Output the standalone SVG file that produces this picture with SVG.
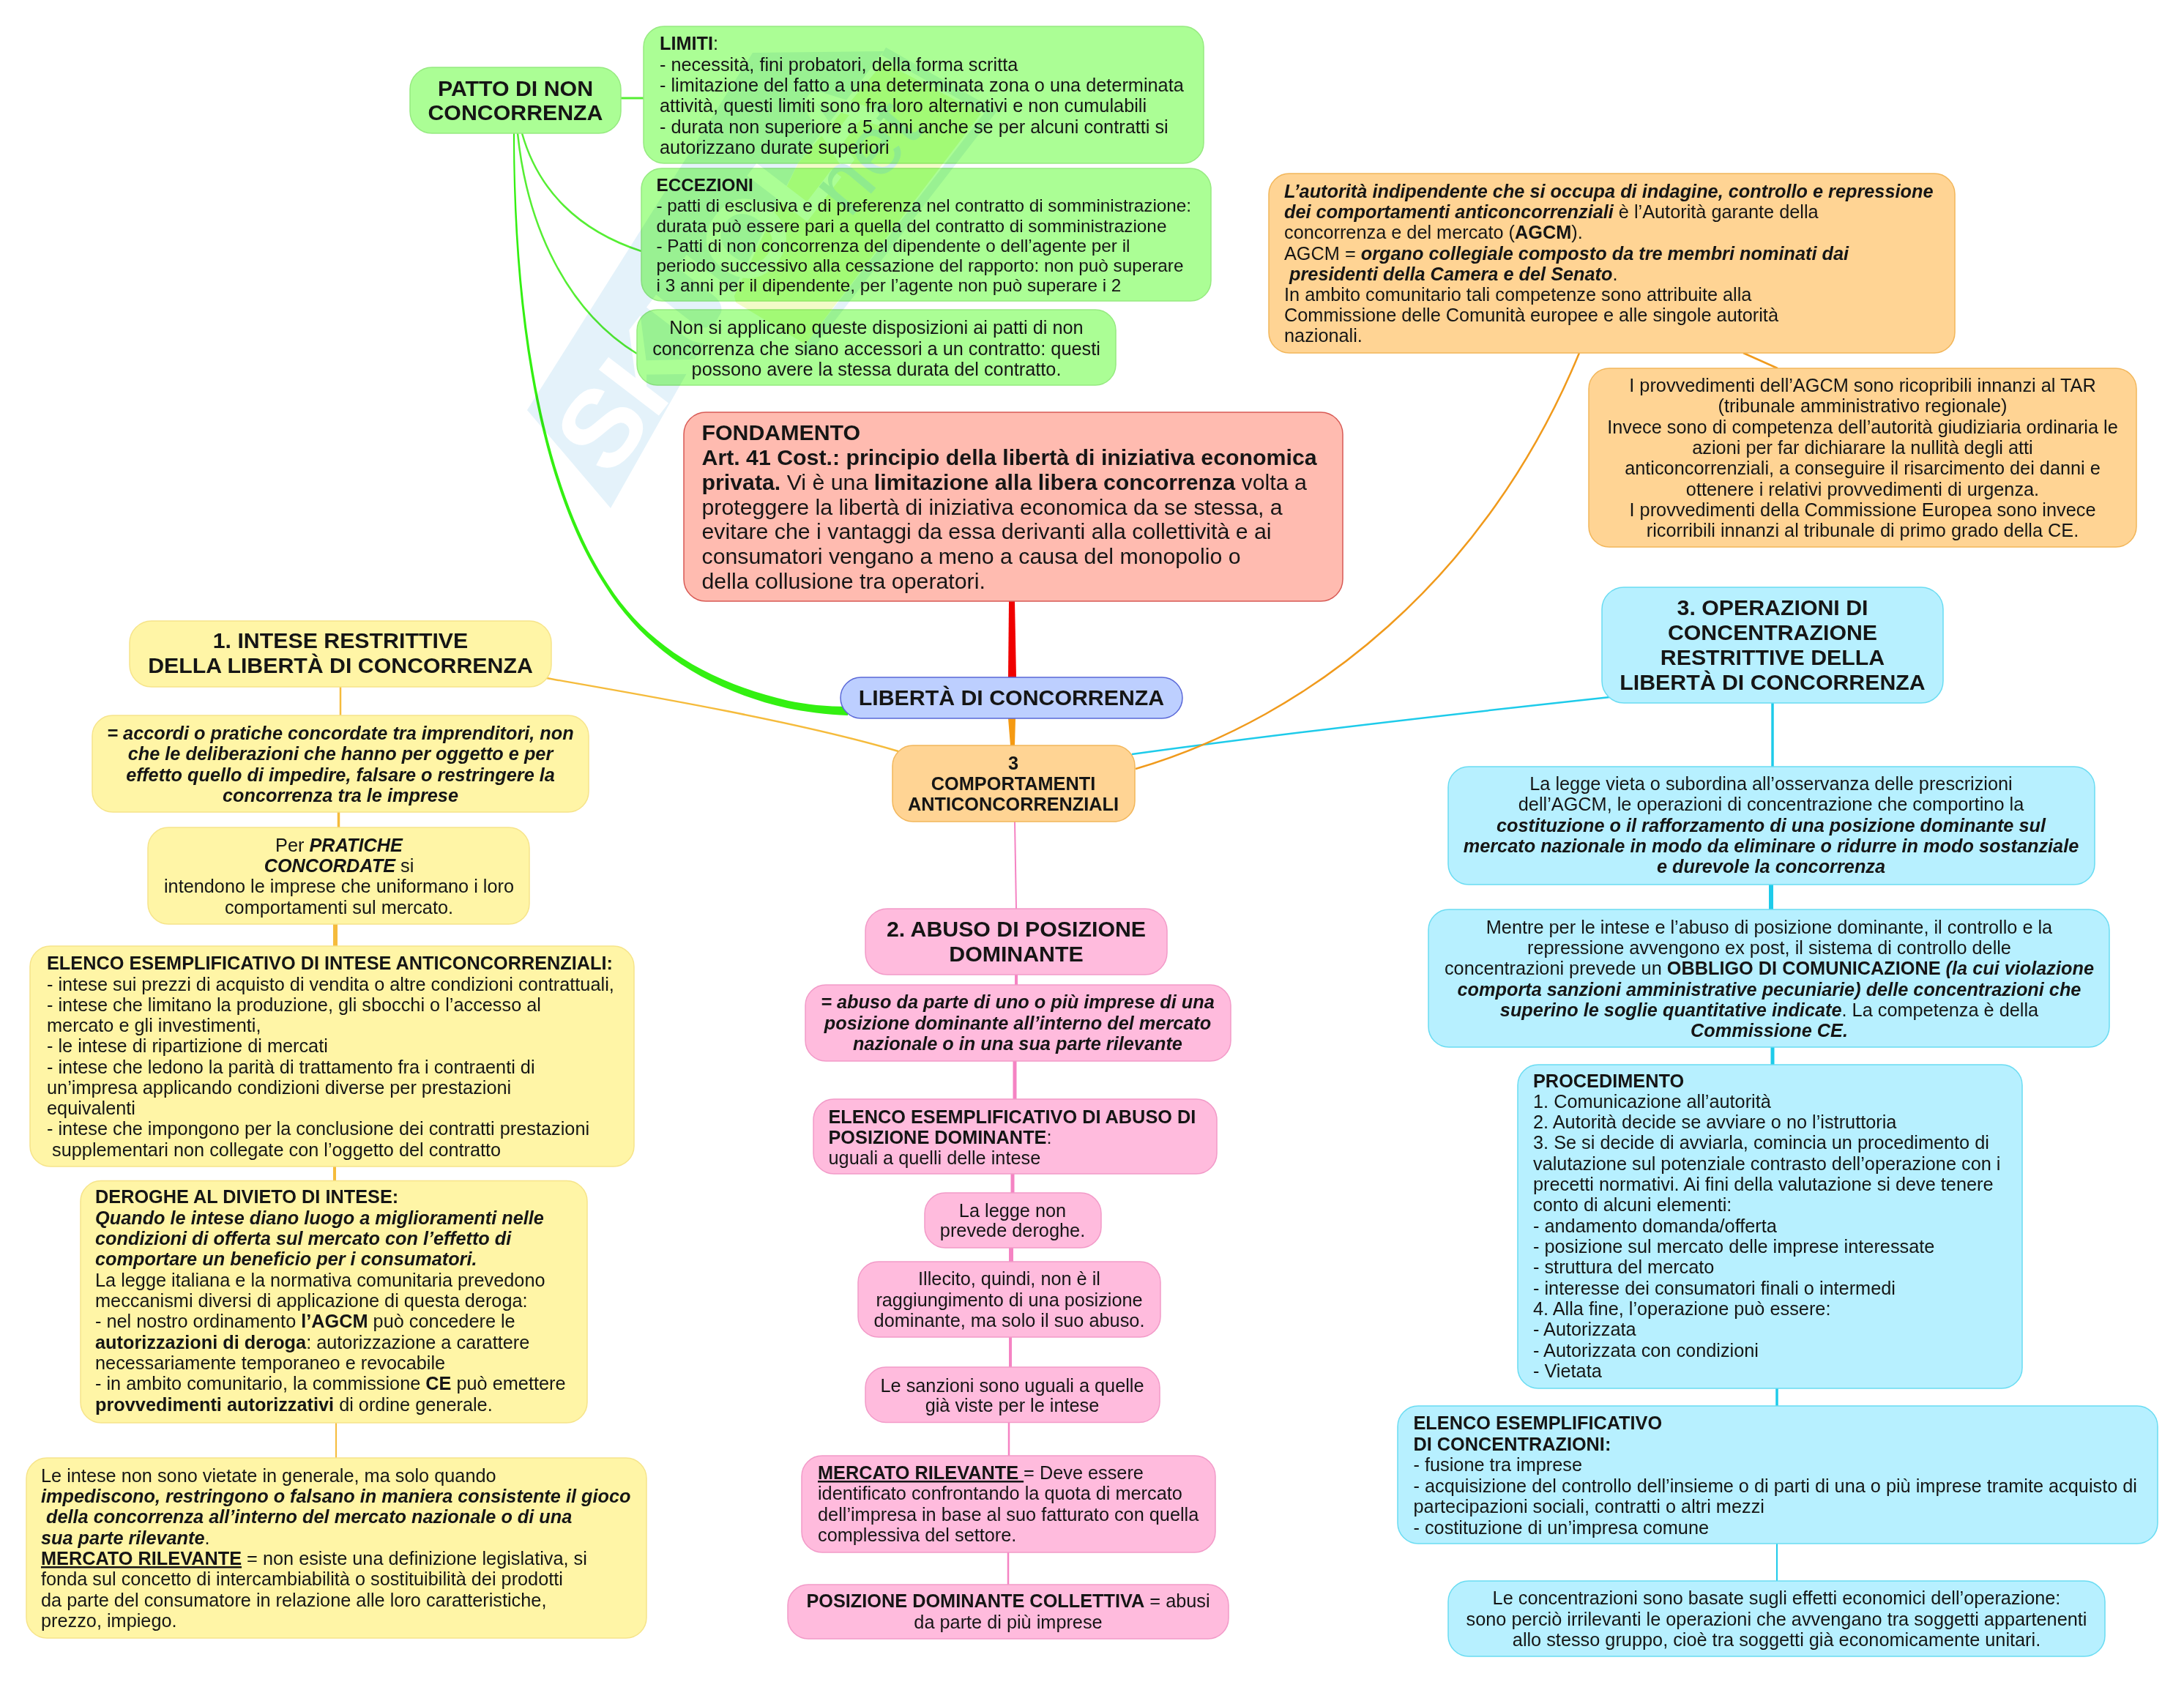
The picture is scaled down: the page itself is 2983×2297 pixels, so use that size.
<svg xmlns="http://www.w3.org/2000/svg" width="2983" height="2297" viewBox="0 0 2983 2297">
<style>
text{font-family:"Liberation Sans",Arial,sans-serif;font-size:25.3px;fill:#151515;white-space:pre}
.c{text-anchor:middle}
.s{font-size:24.3px}
.h{font-size:30.300px;font-weight:700}
.f{font-size:30.300px}
.b{font-weight:700}
.bi{font-weight:700;font-style:italic}
.u{text-decoration:underline}
rect{stroke-width:1.5}
.gr rect{fill:#abfe95;stroke:#96ea80}
.re rect{fill:#ffbbb0;stroke:#d85a55}
.or rect{fill:#ffd494;stroke:#f2b65a}
.bl rect{fill:#bdcfff;stroke:#5a68d8}
.cy rect{fill:#b7f0ff;stroke:#6adcf2}
.ye rect{fill:#fff5a6;stroke:#f6e48a}
.pi rect{fill:#ffbbdd;stroke:#f29ac8}
.l{fill:none}
.lg{stroke:#55ee33}.lo{stroke:#f5bb3c}.lp{stroke:#f583c3}.lc{stroke:#1ecbea}
</style>
<rect width="2983" height="2297" fill="#fff" stroke="none"/>
<g id="connectors">
<path class="l lg" stroke-width="3" d="M848,134H879"/>
<path class="l lg" stroke-width="2.5" d="M713,182C735,260 790,315 876,343"/>
<path class="l lg" stroke-width="2.5" d="M707,182C720,310 775,425 870,483"/>
<path fill="#33f011" d="M703,182C703.5,400 732,650 831,799C882,878 962,930 1077,957C1100,962 1130,965 1158,965L1158,977C1130,976 1098,972 1075,967C958,940 878,882 827,801C728,651 700.5,400 701,182Z"/>
<path fill="#f00000" d="M1378,821H1386L1388,925H1377Z"/>
<path fill="#f59a12" d="M1377,981H1387L1386,1018H1380Z"/>
<path class="l lo" stroke-width="2.5" d="M746,926C860,946 1090,985 1227,1026"/>
<path class="l" stroke="#1ecbea" stroke-width="2.5" d="M1546,1030Q1800,995 2199,952"/>
<path class="l" stroke="#f09a1c" stroke-width="2.5" d="M1551,1050C1790,980 2030,790 2157,482"/>
<path class="l" stroke="#f09a1c" stroke-width="2.5" d="M2381,482L2428,503"/>
<path class="l lp" stroke-width="2" d="M1386,1122L1388,1241"/>
<path class="l lp" stroke-width="4" d="M1388,1331V1345"/>
<path class="l lp" stroke-width="5" d="M1386,1449V1501"/>
<path class="l lp" stroke-width="5" d="M1383,1603V1629"/>
<path class="l lp" stroke-width="6" d="M1381,1704V1723"/>
<path class="l lp" stroke-width="4" d="M1380,1826V1867"/>
<path class="l lp" stroke-width="2.5" d="M1378,1942V1988"/>
<path class="l lp" stroke-width="2.5" d="M1377,2120V2164"/>
<path class="l lo" stroke-width="2.5" d="M465,938V977"/>
<path class="l lo" stroke-width="3.5" d="M462.500,1109V1130"/>
<path class="l lo" stroke-width="6" d="M458,1262V1292"/>
<path class="l lo" stroke-width="4" d="M457,1593V1613"/>
<path class="l lo" stroke-width="2" d="M459,1943V1991"/>
<path class="l lc" stroke-width="3.500" d="M2421,960V1047"/>
<path class="l lc" stroke-width="6" d="M2419,1208V1242"/>
<path class="l lc" stroke-width="5" d="M2421,1430V1454"/>
<path class="l lc" stroke-width="3.500" d="M2427,1896V1920"/>
<path class="l lc" stroke-width="2" d="M2427,2108V2159"/>
</g>
<g id="n-patto" class="gr"><rect x="560" y="92" width="288" height="90" rx="30"/>
<text class="h c" x="704" y="130.500">PATTO DI NON</text><text class="h c" x="704" y="164">CONCORRENZA</text></g>
<g id="n-limiti" class="gr"><rect x="879" y="36" width="765" height="187" rx="28"/>
<text x="901" y="68"><tspan class="b">LIMITI</tspan>:</text>
<text x="901" y="97">- necessità, fini probatori, della forma scritta</text>
<text x="901" y="125">- limitazione del fatto a una determinata zona o una determinata</text>
<text x="901" y="153">attività, questi limiti sono fra loro alternativi e non cumulabili</text>
<text x="901" y="182">- durata non superiore a 5 anni anche se per alcuni contratti si</text>
<text x="901" y="210">autorizzano durate superiori</text></g>
<g id="n-eccezioni" class="gr"><rect x="876" y="230" width="778" height="181" rx="28"/>
<text class="s" x="896.500" y="261"><tspan class="b">ECCEZIONI</tspan></text>
<text class="s" x="896.500" y="289">- patti di esclusiva e di preferenza nel contratto di somministrazione:</text>
<text class="s" x="896.500" y="317">durata può essere pari a quella del contratto di somministrazione</text>
<text class="s" x="896.500" y="343.500">- Patti di non concorrenza del dipendente o dell’agente per il</text>
<text class="s" x="896.500" y="371">periodo successivo alla cessazione del rapporto: non può superare</text>
<text class="s" x="896.500" y="398">i 3 anni per il dipendente, per l’agente non può superare i 2</text></g>
<g id="n-nonsi" class="gr"><rect x="870" y="423" width="654" height="103" rx="28"/>
<text class="c" x="1197" y="456">Non si applicano queste disposizioni ai patti di non</text>
<text class="c" x="1197" y="485">concorrenza che siano accessori a un contratto: questi</text>
<text class="c" x="1197" y="513">possono avere la stessa durata del contratto.</text></g>
<g id="n-fondamento" class="re"><rect x="934" y="563" width="900" height="258" rx="30"/>
<text class="f" x="958.500" y="601"><tspan class="b">FONDAMENTO</tspan></text>
<text class="f" x="958.500" y="634.500"><tspan class="b">Art. 41 Cost.: principio della libertà di iniziativa economica</tspan></text>
<text class="f" x="958.500" y="668.500"><tspan class="b">privata.</tspan> Vi è una <tspan class="b">limitazione alla libera concorrenza</tspan> volta a</text>
<text class="f" x="958.500" y="702.500">proteggere la libertà di iniziativa economica da se stessa, a</text>
<text class="f" x="958.500" y="736">evitare che i vantaggi da essa derivanti alla collettività e ai</text>
<text class="f" x="958.500" y="770">consumatori vengano a meno a causa del monopolio o</text>
<text class="f" x="958.500" y="804">della collusione tra operatori.</text></g>
<g id="n-agcm" class="or"><rect x="1733" y="237" width="937" height="245" rx="28"/>
<text x="1754" y="269.500"><tspan class="bi">L’autorità indipendente che si occupa di indagine, controllo e repressione</tspan></text>
<text x="1754" y="298"><tspan class="bi">dei comportamenti anticoncorrenziali</tspan> è l’Autorità garante della</text>
<text x="1754" y="326">concorrenza e del mercato (<tspan class="b">AGCM</tspan>).</text>
<text x="1754" y="354.500">AGCM = <tspan class="bi">organo collegiale composto da tre membri nominati dai</tspan></text>
<text x="1754" y="382.500"> <tspan class="bi">presidenti della Camera e del Senato</tspan>.</text>
<text x="1754" y="411">In ambito comunitario tali competenze sono attribuite alla</text>
<text x="1754" y="439">Commissione delle Comunità europee e alle singole autorità</text>
<text x="1754" y="467">nazionali.</text></g>
<g id="n-provvedimenti" class="or"><rect x="2170" y="503" width="748" height="244" rx="28"/>
<text class="c" x="2544" y="535">I provvedimenti dell’AGCM sono ricopribili innanzi al TAR</text>
<text class="c" x="2544" y="563">(tribunale amministrativo regionale)</text>
<text class="c" x="2544" y="592">Invece sono di competenza dell’autorità giudiziaria ordinaria le</text>
<text class="c" x="2544" y="620">azioni per far dichiarare la nullità degli atti</text>
<text class="c" x="2544" y="648">anticoncorrenziali, a conseguire il risarcimento dei danni e</text>
<text class="c" x="2544" y="676.500">ottenere i relativi provvedimenti di urgenza.</text>
<text class="c" x="2544" y="705">I provvedimenti della Commissione Europea sono invece</text>
<text class="c" x="2544" y="733">ricorribili innanzi al tribunale di primo grado della CE.</text></g>
<g id="n-operazioni" class="cy"><rect x="2188" y="802" width="466" height="158" rx="30"/>
<text class="h c" x="2421" y="840">3. OPERAZIONI DI</text>
<text class="h c" x="2421" y="874">CONCENTRAZIONE</text>
<text class="h c" x="2421" y="908">RESTRITTIVE DELLA</text>
<text class="h c" x="2421" y="941.500">LIBERTÀ DI CONCORRENZA</text></g>
<g id="n-intese" class="ye"><rect x="177" y="848" width="576" height="90" rx="30"/>
<text class="h c" x="465" y="885">1. INTESE RESTRITTIVE</text>
<text class="h c" x="465" y="919">DELLA LIBERTÀ DI CONCORRENZA</text></g>
<g id="n-accordi" class="ye"><rect x="126" y="977" width="678" height="132" rx="28"/>
<text class="c bi" x="465" y="1009.500">= accordi o pratiche concordate tra imprenditori, non</text>
<text class="c bi" x="465" y="1038">che le deliberazioni che hanno per oggetto e per</text>
<text class="c bi" x="465" y="1067">effetto quello di impedire, falsare o restringere la</text>
<text class="c bi" x="465" y="1095">concorrenza tra le imprese</text></g>
<g id="n-pratiche" class="ye"><rect x="202" y="1130" width="521" height="132" rx="28"/>
<text class="c" x="463" y="1162.500">Per <tspan class="bi">PRATICHE</tspan></text>
<text class="c" x="463" y="1190.500"><tspan class="bi">CONCORDATE</tspan> si</text>
<text class="c" x="463" y="1219">intendono le imprese che uniformano i loro</text>
<text class="c" x="463" y="1248">comportamenti sul mercato.</text></g>
<g id="n-elenco-intese" class="ye"><rect x="41" y="1292" width="825" height="301" rx="28"/>
<text x="64" y="1324" class="b">ELENCO ESEMPLIFICATIVO DI INTESE ANTICONCORRENZIALI:</text>
<text x="64" y="1352.500">- intese sui prezzi di acquisto di vendita o altre condizioni contrattuali,</text>
<text x="64" y="1380.500">- intese che limitano la produzione, gli sbocchi o l’accesso al</text>
<text x="64" y="1409">mercato e gli investimenti,</text>
<text x="64" y="1437">- le intese di ripartizione di mercati</text>
<text x="64" y="1465.500">- intese che ledono la parità di trattamento fra i contraenti di</text>
<text x="64" y="1494">un’impresa applicando condizioni diverse per prestazioni</text>
<text x="64" y="1522">equivalenti</text>
<text x="64" y="1550">- intese che impongono per la conclusione dei contratti prestazioni</text>
<text x="64" y="1578.500"> supplementari non collegate con l’oggetto del contratto</text></g>
<g id="n-deroghe" class="ye"><rect x="110" y="1612.500" width="692" height="330.500" rx="28"/>
<text x="130" y="1643" class="b">DEROGHE AL DIVIETO DI INTESE:</text>
<text x="130" y="1671.500" class="bi">Quando le intese diano luogo a miglioramenti nelle</text>
<text x="130" y="1699.500" class="bi">condizioni di offerta sul mercato con l’effetto di</text>
<text x="130" y="1728" class="bi">comportare un beneficio per i consumatori.</text>
<text x="130" y="1756.500">La legge italiana e la normativa comunitaria prevedono</text>
<text x="130" y="1785">meccanismi diversi di applicazione di questa deroga:</text>
<text x="130" y="1813">- nel nostro ordinamento <tspan class="b">l’AGCM</tspan> può concedere le</text>
<text x="130" y="1841.500"><tspan class="b">autorizzazioni di deroga</tspan>: autorizzazione a carattere</text>
<text x="130" y="1870">necessariamente temporaneo e revocabile</text>
<text x="130" y="1898"><tspan>- in ambito comunitario, la commissione </tspan><tspan class="b">CE</tspan> può emettere</text>
<text x="130" y="1926.500"><tspan class="b">provvedimenti autorizzativi</tspan> di ordine generale.</text></g>
<g id="n-leintese" class="ye"><rect x="36" y="1991" width="847" height="246" rx="28"/>
<text x="56" y="2023.500">Le intese non sono vietate in generale, ma solo quando</text>
<text x="56" y="2052" class="bi">impediscono, restringono o falsano in maniera consistente il gioco</text>
<text x="56" y="2080" class="bi"> della concorrenza all’interno del mercato nazionale o di una</text>
<text x="56" y="2108.500"><tspan class="bi">sua parte rilevante</tspan>.</text>
<text x="56" y="2137"><tspan class="b u">MERCATO RILEVANTE</tspan> = non esiste una definizione legislativa, si</text>
<text x="56" y="2165">fonda sul concetto di intercambiabilità o sostituibilità dei prodotti</text>
<text x="56" y="2193.500">da parte del consumatore in relazione alle loro caratteristiche,</text>
<text x="56" y="2222">prezzo, impiego.</text></g>
<g id="n-liberta" class="bl"><rect x="1148" y="925" width="467" height="56" rx="28"/>
<text class="h c" x="1381.500" y="962.500">LIBERTÀ DI CONCORRENZA</text></g>
<g id="n-comportamenti" class="or"><rect x="1219" y="1018" width="331" height="104" rx="28"/>
<text class="b c" x="1384" y="1050.500">3</text>
<text class="b c" x="1384" y="1078.500">COMPORTAMENTI</text>
<text class="b c" x="1384" y="1107">ANTICONCORRENZIALI</text></g>
<g id="n-abuso" class="pi"><rect x="1182" y="1241" width="412" height="90" rx="30"/>
<text class="h c" x="1388" y="1279">2. ABUSO DI POSIZIONE</text>
<text class="h c" x="1388" y="1312.500">DOMINANTE</text></g>
<g id="n-abuso-def" class="pi"><rect x="1100" y="1345" width="581" height="104" rx="28"/>
<text class="c bi" x="1390" y="1377">= abuso da parte di uno o più imprese di una</text>
<text class="c bi" x="1390" y="1406">posizione dominante all’interno del mercato</text>
<text class="c bi" x="1390" y="1434">nazionale o in una sua parte rilevante</text></g>
<g id="n-elenco-abuso" class="pi"><rect x="1111" y="1501" width="551" height="102" rx="28"/>
<text x="1131.500" y="1533.500" class="b">ELENCO ESEMPLIFICATIVO DI ABUSO DI</text>
<text x="1131.500" y="1561.500"><tspan class="b">POSIZIONE DOMINANTE</tspan>:</text>
<text x="1131.500" y="1590">uguali a quelli delle intese</text></g>
<g id="n-legge" class="pi"><rect x="1263" y="1629" width="241" height="75" rx="28"/>
<text class="c" x="1383" y="1661.500">La legge non</text>
<text class="c" x="1383" y="1689">prevede deroghe.</text></g>
<g id="n-illecito" class="pi"><rect x="1172" y="1723" width="413" height="103" rx="28"/>
<text class="c" x="1378.500" y="1755">Illecito, quindi, non è il</text>
<text class="c" x="1378.500" y="1784">raggiungimento di una posizione</text>
<text class="c" x="1378.500" y="1812">dominante, ma solo il suo abuso.</text></g>
<g id="n-sanzioni" class="pi"><rect x="1182" y="1867" width="402" height="75.500" rx="28"/>
<text class="c" x="1382.500" y="1900.500">Le sanzioni sono uguali a quelle</text>
<text class="c" x="1382.500" y="1928">già viste per le intese</text></g>
<g id="n-mercato" class="pi"><rect x="1095" y="1988" width="565" height="132" rx="28"/>
<text x="1117" y="2020"><tspan class="b u">MERCATO RILEVANTE </tspan>= Deve essere</text>
<text x="1117" y="2048">identificato confrontando la quota di mercato</text>
<text x="1117" y="2077">dell’impresa in base al suo fatturato con quella</text>
<text x="1117" y="2105">complessiva del settore.</text></g>
<g id="n-posizione" class="pi"><rect x="1076" y="2164" width="602" height="74" rx="28"/>
<text class="c" x="1377" y="2195"><tspan class="b">POSIZIONE DOMINANTE COLLETTIVA</tspan> = abusi</text>
<text class="c" x="1377" y="2224">da parte di più imprese</text></g>
<g id="n-vieta" class="cy"><rect x="1978" y="1047" width="883" height="161" rx="28"/>
<text class="c" x="2419" y="1078.500">La legge vieta o subordina all’osservanza delle prescrizioni</text>
<text class="c" x="2419" y="1107">dell’AGCM, le operazioni di concentrazione che comportino la</text>
<text class="c bi" x="2419" y="1135.500">costituzione o il rafforzamento di una posizione dominante sul</text>
<text class="c bi" x="2419" y="1164">mercato nazionale in modo da eliminare o ridurre in modo sostanziale</text>
<text class="c bi" x="2419" y="1192">e durevole la concorrenza</text></g>
<g id="n-mentre" class="cy"><rect x="1951" y="1242" width="930" height="188" rx="28"/>
<text class="c" x="2416.500" y="1274.500">Mentre per le intese e l’abuso di posizione dominante, il controllo e la</text>
<text class="c" x="2416.500" y="1303">repressione avvengono ex post, il sistema di controllo delle</text>
<text class="c" x="2416.500" y="1331">concentrazioni prevede un <tspan class="b">OBBLIGO DI COMUNICAZIONE</tspan> <tspan class="bi">(la cui violazione</tspan></text>
<text class="c bi" x="2416.500" y="1359.500">comporta sanzioni amministrative pecuniarie) delle concentrazioni che</text>
<text class="c" x="2416.500" y="1388"><tspan class="bi">superino le soglie quantitative indicate</tspan>. La competenza è della</text>
<text class="c bi" x="2416.500" y="1416">Commissione CE.</text></g>
<g id="n-procedimento" class="cy"><rect x="2073" y="1454" width="689" height="442" rx="28"/>
<text x="2094" y="1484.500" class="b">PROCEDIMENTO</text>
<text x="2094" y="1513">1. Comunicazione all’autorità</text>
<text x="2094" y="1541">2. Autorità decide se avviare o no l’istruttoria</text>
<text x="2094" y="1569">3. Se si decide di avviarla, comincia un procedimento di</text>
<text x="2094" y="1597.500">valutazione sul potenziale contrasto dell’operazione con i</text>
<text x="2094" y="1626">precetti normativi. Ai fini della valutazione si deve tenere</text>
<text x="2094" y="1654">conto di alcuni elementi:</text>
<text x="2094" y="1682.500">- andamento domanda/offerta</text>
<text x="2094" y="1711">- posizione sul mercato delle imprese interessate</text>
<text x="2094" y="1739">- struttura del mercato</text>
<text x="2094" y="1767.500">- interesse dei consumatori finali o intermedi</text>
<text x="2094" y="1796">4. Alla fine, l’operazione può essere:</text>
<text x="2094" y="1824">- Autorizzata</text>
<text x="2094" y="1852.500">- Autorizzata con condizioni</text>
<text x="2094" y="1880.500">- Vietata</text></g>
<g id="n-elenco-conc" class="cy"><rect x="1909" y="1920" width="1038" height="188" rx="28"/>
<text x="1930.500" y="1952" class="b">ELENCO ESEMPLIFICATIVO</text>
<text x="1930.500" y="1980.500" class="b">DI CONCENTRAZIONI:</text>
<text x="1930.500" y="2009">- fusione tra imprese</text>
<text x="1930.500" y="2037.500">- acquisizione del controllo dell’insieme o di parti di una o più imprese tramite acquisto di</text>
<text x="1930.500" y="2066">partecipazioni sociali, contratti o altri mezzi</text>
<text x="1930.500" y="2094.500">- costituzione di un’impresa comune</text></g>
<g id="n-conc" class="cy"><rect x="1978" y="2159" width="897" height="103" rx="28"/>
<text class="c" x="2426.500" y="2191">Le concentrazioni sono basate sugli effetti economici dell’operazione:</text>
<text class="c" x="2426.500" y="2219.500">sono perciò irrilevanti le operazioni che avvengano tra soggetti appartenenti</text>
<text class="c" x="2426.500" y="2248">allo stesso gruppo, cioè tra soggetti già economicamente unitari.</text></g>
<g id="watermark" style="mix-blend-mode:multiply">
<path fill="#e4f2fa" d="M720,560L1028,72L1207,70L1090,223L1000,400L834,694Z"/>
<path fill="#f2fbc8" d="M1207,85L1340,155L1100,470L1000,410L1090,223Z"/>
<path fill="none" stroke="#e4f2fa" stroke-width="12" d="M1207,70L1353,153L1100,480"/>
<text transform="translate(833,655) rotate(-52.600)" style="font-size:150px;font-weight:700;fill:#fff">SKUOLA</text>
<text transform="translate(1160,300) rotate(-50)" style="font-size:115px;fill:#d6ecf2">net</text>
</g>
</svg>
